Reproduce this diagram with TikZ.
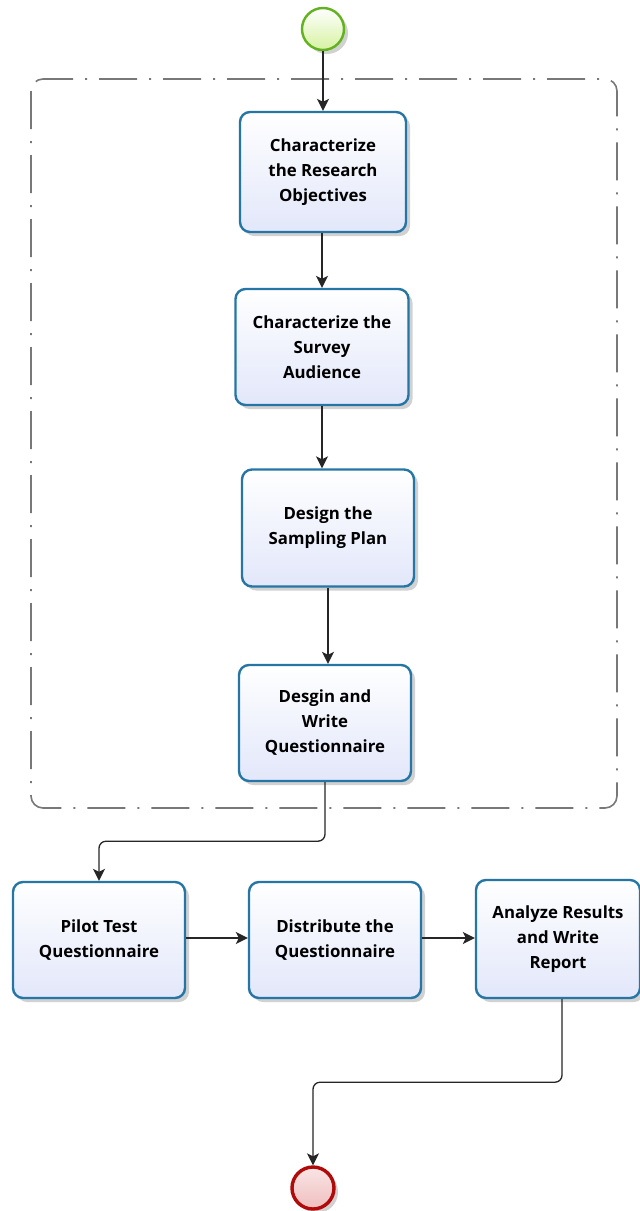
\documentclass[tikz,border=0pt]{standalone}
\usepackage{fontspec}
\setmainfont{Open Sans}
\usetikzlibrary{arrows.meta,shadows,positioning}
\definecolor{boxedge}{RGB}{38,118,165}
\definecolor{boxfill}{RGB}{226,231,250}
\definecolor{startedge}{RGB}{98,178,32}
\definecolor{startfill}{RGB}{214,242,160}
\definecolor{endedge}{RGB}{176,10,10}
\definecolor{endfill}{RGB}{240,190,190}
\definecolor{groupline}{RGB}{120,120,120}
\tikzset{
  taskbox/.style={draw=boxedge, line width=2.4pt, rounded corners=10pt,
    top color=white, bottom color=boxfill, align=center,
    font=\fontsize{16.8}{25}\selectfont\bfseries,
    drop shadow={shadow xshift=4pt, shadow yshift=-4pt, opacity=0.18, fill=black}},
  startev/.style={circle, draw=startedge, line width=2.4pt, minimum size=42pt,
    inner sep=0pt, top color=white, bottom color=startfill,
    drop shadow={shadow xshift=4pt, shadow yshift=-4pt, opacity=0.18, fill=black}},
  endev/.style={circle, draw=endedge, line width=3.4pt, minimum size=42pt,
    inner sep=0pt, top color=white!60!endfill, bottom color=endfill,
    drop shadow={shadow xshift=4pt, shadow yshift=-4pt, opacity=0.18, fill=black}},
  flow/.style={draw=black!85, line width=1.3pt, rounded corners=7pt,
    -{Stealth[length=12pt,width=12pt,inset=3pt]}},
  groupbox/.style={draw=groupline, line width=1.6pt, rounded corners=12pt,
    dash pattern=on 38pt off 12pt on 2pt off 12pt}
}
\begin{document}
\begin{tikzpicture}[x=1pt,y=-1pt]
  \useasboundingbox (0,0) rectangle (640,1211);
  \fill[white] (0,0) rectangle (640,1211);

  % group frame around the design tasks
  \draw[groupbox] (31,79) rectangle (617,808);

  % events
  \node[startev] (start) at (323,29) {};
  \node[endev] (stop) at (313,1188) {};

  % tasks
  \node[taskbox, minimum width=166pt, minimum height=120pt] (obj) at (323,172)
    {Characterize\\the Research\\Objectives};
  \node[taskbox, minimum width=173pt, minimum height=116pt] (aud) at (322,347)
    {Characterize the\\Survey\\Audience};
  \node[taskbox, minimum width=172pt, minimum height=117pt] (samp) at (328,528)
    {Design the\\Sampling Plan};
  \node[taskbox, minimum width=172pt, minimum height=116pt] (quest) at (325,723)
    {Desgin and\\Write\\Questionnaire};
  \node[taskbox, minimum width=172pt, minimum height=116pt] (pilot) at (99,940)
    {Pilot Test\\Questionnaire};
  \node[taskbox, minimum width=172pt, minimum height=116pt] (dist) at (335,940)
    {Distribute the\\Questionnaire};
  \node[taskbox, minimum width=164pt, minimum height=118pt] (anal) at (558,939)
    {Analyze Results\\and Write\\Report};

  % sequence flows
  \draw[flow] (start) -- (obj);
  \draw[flow] (obj.south -| aud) -- (aud);
  \draw[flow] (aud) -- (aud |- samp.north);
  \draw[flow] (samp) -- (samp |- quest.north);
  \draw[flow] (quest.south) -- ++(0,59) -| (pilot.north);
  \draw[flow] (pilot.east |- 0,938) -- (dist.west |- 0,938);
  \draw[flow] (dist.east |- 0,938) -- (anal.west |- 0,938);
  \draw[flow] ([xshift=4pt]anal.south) -- ++(0,83) -| (stop.north);
\end{tikzpicture}
\end{document}
